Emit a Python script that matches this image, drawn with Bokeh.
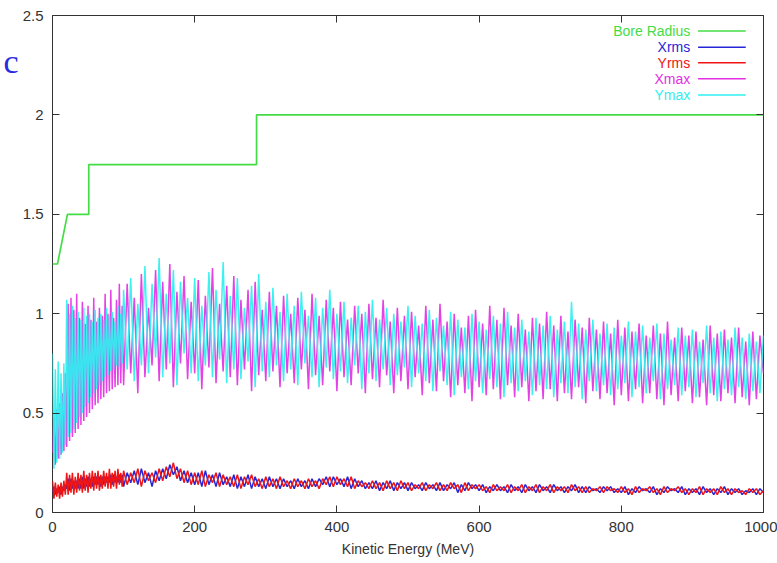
import numpy as np
from bokeh.plotting import figure
from bokeh.models import Range1d, LinearAxis, Label, FixedTicker
from bokeh.embed import file_html
from bokeh.resources import INLINE

# ---------------- data ----------------
# sample energies (MeV): 2 MeV steps below 100 MeV, 5 MeV steps above
E_EARLY = list(range(0, 100, 2))
E_LATE = list(range(100, 1001, 5))
ENERGY = E_EARLY + E_LATE

BORE_E = [0, 7, 21, 51, 51, 287, 287, 1000]
BORE_R = [1.25, 1.25, 1.5, 1.5, 1.75, 1.75, 2.0, 2.0]

# values below in hundredths of the y unit
YMAX_EARLY = [80, 22, 72, 25, 76, 27, 70, 30, 75, 34,
              107, 38, 100, 40, 104, 42, 98, 45, 101, 48,
              97, 50, 103, 53, 99, 55, 100, 58, 96, 60,
              102, 62, 98, 64, 100, 66, 97, 68, 103, 69,
              99, 71, 101, 72, 96, 74, 104, 73, 100, 75]
YMAX_LATE = [112, 72, 118, 66, 105, 74, 124, 70, 115, 78,
             128, 68, 110, 75, 122, 64, 116, 80, 108, 70,
             118, 66, 104, 74, 121, 68, 112, 77, 126, 65,
             109, 72, 118, 67, 103, 76, 114, 63, 120, 71,
             106, 68, 113, 74, 101, 66, 110, 72, 104, 64,
             111, 75, 99, 68, 108, 63, 103, 73, 112, 67,
             100, 71, 106, 65, 98, 74, 104, 62, 101, 70,
             107, 66, 97, 72, 103, 64, 100, 69, 96, 73,
             104, 63, 99, 70, 95, 66, 102, 61, 98, 71,
             94, 64, 101, 59, 97, 68, 93, 62, 100, 66,
             96, 60, 92, 67, 99, 63, 95, 58, 101, 65,
             93, 61, 97, 66, 91, 59, 98, 64, 94, 62,
             99, 58, 92, 65, 96, 60, 106, 63, 95, 57,
             92, 66, 97, 61, 90, 64, 95, 59, 93, 62,
             89, 65, 96, 58, 91, 63, 94, 60, 88, 66,
             95, 57, 90, 62, 87, 64, 93, 59, 89, 63,
             92, 58, 86, 65, 94, 60, 88, 56, 91, 62,
             87, 59, 93, 63, 88, 57, 90, 61, 86, 60,
             89]

XMAX_EARLY = [30, 48, 24, 52, 27, 55, 29, 60, 31, 70,
              33, 105, 36, 108, 38, 102, 40, 110, 42, 98,
              44, 106, 46, 95, 48, 104, 50, 97, 52, 108,
              54, 96, 55, 103, 57, 99, 58, 110, 60, 100,
              61, 112, 62, 98, 63, 107, 64, 115, 65, 104]
XMAX_LATE = [64, 115, 70, 108, 60, 120, 68, 103, 74, 122,
             66, 116, 72, 125, 63, 111, 75, 119, 67, 106,
             70, 117, 62, 109, 73, 123, 65, 105, 71, 114,
             68, 119, 64, 107, 72, 112, 61, 116, 69, 102,
             66, 111, 71, 104, 63, 109, 70, 100, 65, 108,
             72, 102, 62, 110, 69, 99, 64, 107, 71, 103,
             61, 106, 68, 97, 64, 104, 70, 100, 60, 105,
             67, 98, 63, 107, 69, 96, 60, 103, 66, 99,
             62, 101, 68, 94, 59, 104, 65, 97, 61, 105,
             66, 96, 58, 100, 64, 93, 60, 99, 56, 102,
             63, 95, 59, 104, 62, 97, 57, 103, 64, 94,
             58, 100, 63, 92, 56, 98, 61, 95, 57, 101,
             62, 94, 56, 99, 60, 91, 57, 97, 63, 93,
             55, 98, 61, 92, 57, 96, 60, 90, 54, 97,
             59, 93, 56, 91, 62, 95, 55, 89, 60, 94,
             57, 90, 54, 96, 59, 88, 56, 93, 61, 89,
             55, 91, 58, 87, 54, 94, 59, 90, 56, 92,
             60, 88, 55, 93, 58, 86, 54, 91, 57, 89,
             70]

YRMS_EARLY = [16, 7, 15, 8, 14, 7, 15, 8, 16, 9,
              20, 9, 19, 10, 20, 9, 18, 10, 20, 11,
              19, 10, 21, 11, 19, 10, 20, 12, 21, 11,
              20, 12, 21, 11, 19, 12, 21, 13, 20, 12,
              22, 12, 20, 13, 21, 12, 22, 14, 20, 13]
YRMS_LATE = [21, 14, 20, 15, 22, 13, 21, 16, 20, 15,
             22, 16, 23, 18, 25, 17, 22, 15, 21, 14,
             20, 14, 21, 13, 19, 15, 20, 13, 19, 14,
             18, 13, 19, 12, 18, 14, 19, 13, 17, 12,
             18, 13, 17, 12, 18, 13, 16, 12, 17, 13,
             16, 12, 17, 13, 16, 12, 17, 14, 18, 13,
             18, 14, 17, 13, 18, 12, 16, 13, 15, 12,
             16, 12, 15, 11, 16, 12, 15, 11, 16, 12,
             15, 11, 14, 12, 15, 11, 14, 12, 15, 11,
             14, 11, 15, 12, 14, 10, 15, 11, 14, 12,
             14, 11, 13, 10, 14, 11, 13, 11, 14, 10,
             13, 11, 14, 10, 13, 11, 14, 10, 13, 11,
             14, 10, 13, 11, 13, 10, 14, 11, 13, 10,
             13, 10, 12, 11, 13, 10, 13, 11, 12, 10,
             13, 10, 12, 9, 13, 10, 12, 11, 13, 10,
             12, 9, 13, 10, 12, 11, 13, 10, 12, 9,
             12, 10, 13, 9, 12, 10, 12, 9, 13, 10,
             12, 9, 12, 10, 11, 9, 12, 10, 12, 9,
             11]

XRMS_EARLY = [10, 13, 9, 12, 10, 13, 9, 13, 11, 14,
              12, 17, 11, 17, 12, 16, 12, 16, 12, 17,
              12, 18, 12, 17, 13, 18, 13, 17, 13, 18,
              14, 18, 14, 18, 13, 18, 14, 18, 15, 18,
              15, 19, 14, 19, 15, 18, 15, 19, 15, 19]
XRMS_LATE = [13, 20, 15, 21, 14, 22, 15, 20, 13, 21,
             16, 22, 17, 24, 19, 23, 16, 21, 15, 20,
             14, 20, 13, 21, 14, 19, 13, 20, 14, 18,
             13, 19, 12, 18, 13, 19, 12, 18, 13, 17,
             12, 18, 13, 17, 12, 17, 13, 16, 12, 17,
             13, 16, 12, 17, 13, 17, 14, 18, 13, 18,
             14, 17, 13, 18, 12, 17, 13, 16, 12, 15,
             12, 16, 11, 15, 12, 16, 11, 15, 12, 15,
             11, 15, 12, 14, 11, 15, 12, 14, 11, 15,
             11, 14, 12, 15, 10, 14, 11, 15, 12, 14,
             11, 14, 10, 13, 11, 14, 11, 13, 10, 14,
             11, 13, 10, 14, 11, 13, 10, 14, 11, 13,
             10, 14, 11, 13, 10, 13, 11, 14, 10, 13,
             10, 13, 11, 12, 10, 13, 11, 13, 10, 12,
             10, 13, 9, 12, 10, 13, 11, 12, 10, 13,
             9, 12, 10, 13, 11, 12, 10, 13, 9, 12,
             10, 12, 9, 13, 10, 12, 9, 12, 10, 13,
             9, 12, 10, 12, 9, 11, 10, 12, 9, 12,
             10]

SERIES_NAMES = ["Bore Radius", "Xrms", "Yrms", "Xmax", "Ymax"]
SERIES_COLORS = ["#44dc44", "#2626d6", "#f01414", "#e22ee2", "#2ef0f0"]

X_TICKS = [0, 200, 400, 600, 800, 1000]
Y_TICKS = [0, 0.5, 1, 1.5, 2, 2.5]
Y_TICK_LABELS = ["0", "0.5", "1", "1.5", "2", "2.5"]

# ---------------- figure ----------------
FONT = "Liberation Sans"
TXT = "#333333"

p = figure(width=777, height=563, output_backend="svg", toolbar_location=None,
           x_range=Range1d(0, 1000), y_range=Range1d(0, 2.5),
           min_border_left=52, min_border_right=14, min_border_top=15, min_border_bottom=51,
           background_fill_color="white", border_fill_color="white")
p.grid.visible = False
p.outline_line_color = "#333333"
p.outline_line_width = 1

for ax in (p.xaxis[0], p.yaxis[0]):
    ax.major_tick_in = 7
    ax.major_tick_out = 0
    ax.minor_tick_in = 0
    ax.minor_tick_out = 0
    ax.axis_line_color = None
    ax.major_tick_line_color = "#333333"
    ax.major_label_text_font = FONT
    ax.major_label_text_font_size = "15px"
    ax.major_label_text_color = TXT

p.xaxis.ticker = FixedTicker(ticks=X_TICKS)
p.yaxis.ticker = FixedTicker(ticks=Y_TICKS)
p.yaxis.major_label_overrides = {t: s for t, s in zip(Y_TICKS, Y_TICK_LABELS)}
p.xaxis.major_label_standoff = 9
p.yaxis.major_label_standoff = 9
p.xaxis.axis_label = "Kinetic Energy (MeV)"
p.xaxis.axis_label_text_font = FONT
p.xaxis.axis_label_text_font_size = "14px"
p.xaxis.axis_label_text_font_style = "normal"
p.xaxis.axis_label_text_color = TXT
p.xaxis.axis_label_standoff = 6

# mirrored ticks (top and right) as gnuplot does; no labels there
for loc, ticks in (("above", X_TICKS), ("right", Y_TICKS)):
    ax = LinearAxis(ticker=FixedTicker(ticks=ticks), major_label_text_font_size="0px",
                    major_label_text_color=None,
                    major_tick_in=7, major_tick_out=0, minor_tick_in=0, minor_tick_out=0,
                    axis_line_color=None, major_tick_line_color="#333333",
                    major_label_standoff=0)
    p.add_layout(ax, loc)

# fragment of the slide title visible at the left edge: drawn as the only
# label of an extra, otherwise invisible, left axis (so it sits in the border)
FRAGMENT_AT = 2.27
frag_axis = LinearAxis(ticker=FixedTicker(ticks=[FRAGMENT_AT]),
                       major_label_overrides={FRAGMENT_AT: "c"},
                       major_label_text_font="Liberation Serif",
                       major_label_text_font_size="34px",
                       major_label_text_color="#2a2ae0",
                       major_label_standoff=1,
                       major_tick_in=0, major_tick_out=0, minor_tick_in=0, minor_tick_out=0,
                       axis_line_color=None, major_tick_line_color=None)
p.add_layout(frag_axis, "left")

energy = np.array(ENERGY, dtype=float)
ymax = np.array(YMAX_EARLY + YMAX_LATE) / 100.0
xmax = np.array(XMAX_EARLY + XMAX_LATE) / 100.0
yrms = np.array(YRMS_EARLY + YRMS_LATE) / 100.0
xrms = np.array(XRMS_EARLY + XRMS_LATE) / 100.0

p.line(BORE_E, BORE_R, line_color=SERIES_COLORS[0], line_width=1.7)
p.line(energy, xrms, line_color=SERIES_COLORS[1], line_width=1.5, line_join="bevel")
p.line(energy, yrms, line_color=SERIES_COLORS[2], line_width=1.5, line_join="bevel")
p.line(energy, xmax, line_color=SERIES_COLORS[3], line_width=1.5, line_join="bevel", line_alpha=0.9)
p.line(energy, ymax, line_color=SERIES_COLORS[4], line_width=1.5, line_join="bevel", line_alpha=0.92)

# gnuplot-style key: text on the left, sample line on the right
KEY_TEXT_X = 897
KEY_LINE_X0, KEY_LINE_X1 = 908, 975
KEY_ROWS_Y = [2.422, 2.340, 2.262, 2.182, 2.100]
for name, col, ky in zip(SERIES_NAMES, SERIES_COLORS, KEY_ROWS_Y):
    p.add_layout(Label(x=KEY_TEXT_X, y=ky, text=name, text_align="right",
                       text_baseline="middle", text_font=FONT, text_font_size="14px",
                       text_color=col))
p.segment(x0=[KEY_LINE_X0] * 5, y0=KEY_ROWS_Y, x1=[KEY_LINE_X1] * 5, y1=KEY_ROWS_Y,
          line_color=SERIES_COLORS, line_width=1.6)

open("out.html", "w").write(file_html(p, INLINE))
